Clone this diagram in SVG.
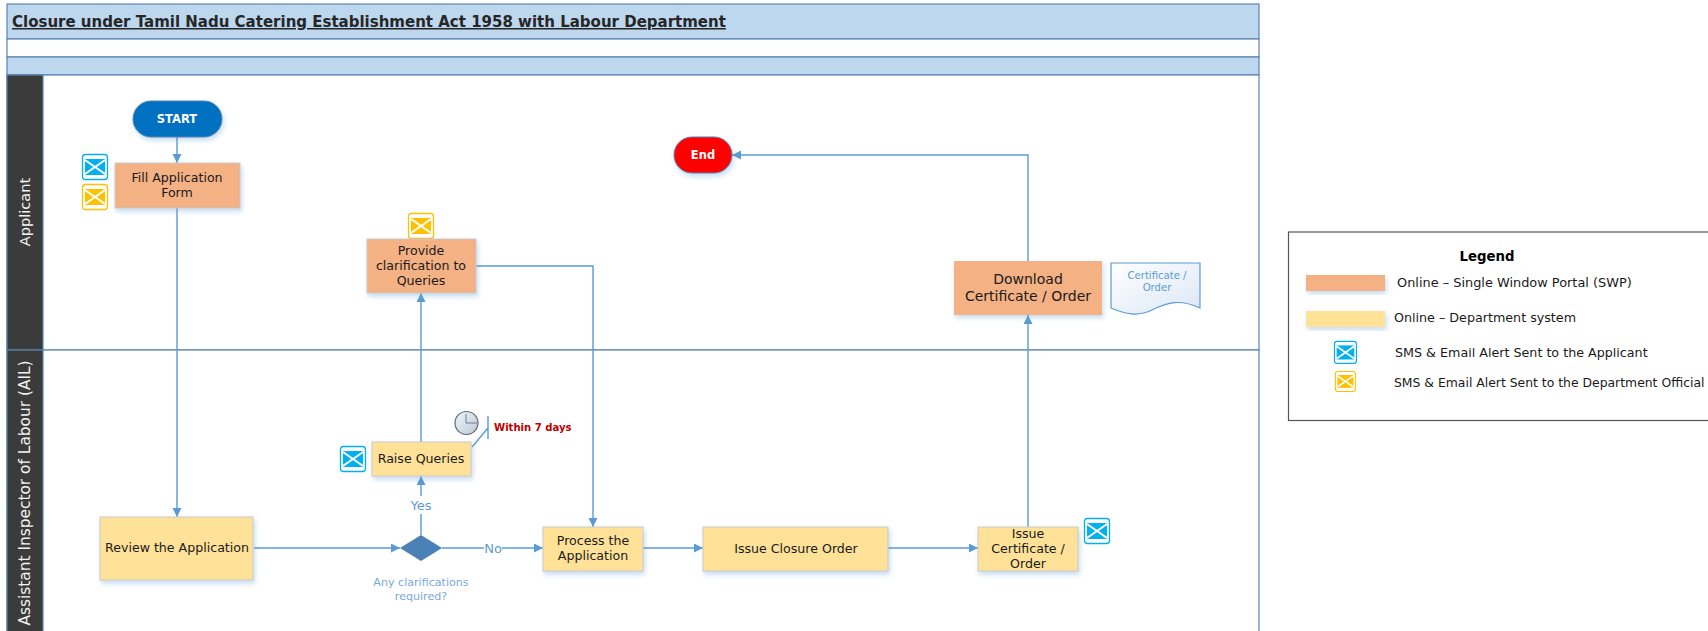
<svg xmlns="http://www.w3.org/2000/svg" width="1708" height="631" viewBox="0 0 1708 631">
<style>
text{font-family:"DejaVu Sans",Verdana,sans-serif;font-size:12.6px;fill:#1a1a1a;text-anchor:middle}
.band{fill:#bdd7ee;stroke:#5a84b0;stroke-width:1.2}
.lane{fill:#fff;stroke:#5a84b0;stroke-width:1.2}
.hd{fill:#3b3b3b;stroke:#5a84b0;stroke-width:1.2}
.hdt{fill:#f2f2f2;font-size:15.4px}
.o{fill:#f4b183;stroke:#c9c9c9;stroke-width:1;filter:url(#s)}
.y{fill:#ffe298;stroke:#c9c9c9;stroke-width:1;filter:url(#s)}
.c{fill:none;stroke:#5b9bd5;stroke-width:1.4}
.lb{fill:#5b9bd5}
.q{fill:#7aa9dc;font-size:11.1px}
.leg{text-anchor:start;font-size:12.7px}
.e{fill:none;stroke:#fff;stroke-width:2}
</style>
<defs>
<filter id="s" x="-10%" y="-10%" width="125%" height="130%"><feDropShadow dx="1.5" dy="3" stdDeviation="2.5" flood-color="#5b9bd5" flood-opacity=".35"/></filter>
<marker id="a" markerWidth="10" markerHeight="10" refX="9" refY="4.500" orient="auto" markerUnits="userSpaceOnUse"><path d="M0 0L9 4.500L0 9Z" fill="#5b9bd5"/></marker>
<linearGradient id="d" x1="0" y1="0" x2="1" y2="1"><stop offset="0" stop-color="#fff"/><stop offset="1" stop-color="#dbe7f5"/></linearGradient>
<linearGradient id="cl" x1="0" y1="0" x2="1" y2="1"><stop offset="0" stop-color="#f2f5f8"/><stop offset="1" stop-color="#bcc8d6"/></linearGradient>
<g id="mail-b"><rect x="0.500" y="0.500" width="25" height="25" rx="3" fill="#fff" stroke="#00b0f0" stroke-width="1.300"/><rect x="3" y="5" width="20" height="16" fill="#00b0f0"/><path class="e" d="M3 6L13 13L23 6M3 20L13 13L23 20"/></g>
<g id="mail-g"><rect x="0.500" y="0.500" width="25" height="25" rx="3" fill="#fff" stroke="#ffc000" stroke-width="1.300"/><rect x="3" y="5" width="20" height="16" fill="#ffc000"/><path class="e" d="M3 6L13 13L23 6M3 20L13 13L23 20"/></g>
</defs>
<g id="swimlanes">
<rect class="band" x="7" y="4" width="1252" height="35"/>
<rect class="lane" x="7" y="39" width="1252" height="18"/>
<rect class="band" x="7" y="57" width="1252" height="18"/>
<rect class="lane" x="7" y="75" width="1252" height="275"/>
<rect class="lane" x="7" y="350" width="1252" height="290"/>
<rect class="hd" x="7" y="75" width="36" height="275"/>
<rect class="hd" x="7" y="350" width="36" height="290"/>
<text x="12" y="27" style="text-anchor:start;font-size:15px;font-weight:bold;text-decoration:underline;fill:#262626">Closure under Tamil Nadu Catering Establishment Act 1958 with Labour Department</text>
<text class="hdt" transform="translate(30 212) rotate(-90)" style="font-size:14.6px">Applicant</text>
<text class="hdt" transform="translate(30 493) rotate(-90)">Assistant Inspector of Labour (AIL)</text>
</g>
<g id="connectors">
<path class="c" marker-end="url(#a)" d="M177 137V163"/>
<path class="c" marker-end="url(#a)" d="M177 208V517"/>
<path class="c" marker-end="url(#a)" d="M254 548H400"/>
<path class="c" marker-end="url(#a)" d="M421 535V476"/>
<path class="c" marker-end="url(#a)" d="M421 442V293"/>
<path class="c" marker-end="url(#a)" d="M442 548H543"/>
<path class="c" marker-end="url(#a)" d="M476 266H593V527"/>
<path class="c" marker-end="url(#a)" d="M643 548H703"/>
<path class="c" marker-end="url(#a)" d="M888 548H978"/>
<path class="c" marker-end="url(#a)" d="M1028 527V315"/>
<path class="c" marker-end="url(#a)" d="M1028 261V155H732"/>
<path class="c" d="M472 447L488 428M488 416V439"/>
<rect x="410" y="496" width="22" height="18" fill="#fff"/>
<text class="lb" x="421" y="510" style="font-size:13px">Yes</text>
<rect x="484" y="540" width="18" height="16" fill="#fff"/>
<text class="lb" x="493" y="553" style="font-size:13px">No</text>
</g>
<g id="start"><rect x="133" y="101" width="89" height="36" rx="18" fill="#0070c0" stroke="#5a84b0" filter="url(#s)"/><text x="177" y="123" style="fill:#fff;font-weight:bold;font-size:11.500px">START</text></g>
<g id="fill-form"><rect class="o" x="115" y="163" width="125" height="45"/><text x="177" y="182">Fill Application</text><text x="177" y="197">Form</text></g>
<g id="mail1"><use href="#mail-b" x="82" y="154"/></g>
<g id="mail2"><use href="#mail-g" x="82" y="184"/></g>
<g id="mail3"><use href="#mail-g" x="408" y="213"/></g>
<g id="provide"><rect class="o" x="367" y="239" width="109" height="54"/><text x="421" y="255">Provide</text><text x="421" y="270">clarification to</text><text x="421" y="285">Queries</text></g>
<g id="end"><rect x="674" y="137" width="58" height="36" rx="18" fill="#ff0000" stroke="#5a84b0" filter="url(#s)"/><text x="703" y="159" style="fill:#fff;font-weight:bold;font-size:11.500px">End</text></g>
<g id="download"><rect class="o" x="954" y="261" width="148" height="54" style="stroke:none"/><text x="1028" y="284" style="font-size:14px">Download</text><text x="1028" y="301" style="font-size:14px">Certificate / Order</text></g>
<g id="document"><path d="M1111 263H1200V308C1180 299 1168 302 1152 310C1138 317 1125 314 1111 308Z" fill="url(#d)" stroke="#5b9bd5" stroke-width="1.2"/><text x="1157" y="279" class="lb" style="font-size:10.100px">Certificate /</text><text x="1157" y="291" class="lb" style="font-size:10.100px">Order</text></g>
<g id="raise"><rect class="y" x="372" y="442" width="99" height="34"/><text x="421" y="463">Raise Queries</text></g>
<g id="mail4"><use href="#mail-b" x="340" y="446"/></g>
<g id="clock"><circle cx="466.500" cy="423" r="11.500" fill="url(#cl)" stroke="#5f6b78" stroke-width="1.200"/><path d="M466 414V423H477" fill="none" stroke="#6f7d8c" stroke-width="1"/></g>
<text x="494" y="431" style="text-anchor:start;fill:#c00000;font-weight:bold;font-size:10.100px">Within 7 days</text>
<g id="review"><rect class="y" x="100" y="517" width="153" height="63"/><text x="177" y="552">Review the Application</text></g>
<g id="decision"><path d="M400 548L421 535L442 548L421 561Z" fill="#4a82b8"/><text x="421" y="586" class="q">Any clarifications</text><text x="421" y="600" class="q">required?</text></g>
<g id="process"><rect class="y" x="543" y="527" width="100" height="44"/><text x="593" y="545">Process the</text><text x="593" y="560">Application</text></g>
<g id="closure"><rect class="y" x="703" y="527" width="185" height="44"/><text x="796" y="553">Issue Closure Order</text></g>
<g id="issue-cert"><rect class="y" x="978" y="527" width="100" height="44"/><text x="1028" y="538">Issue</text><text x="1028" y="553">Certificate /</text><text x="1028" y="568">Order</text></g>
<g id="mail5"><use href="#mail-b" x="1084" y="518"/></g>
<g id="legend">
<rect x="1288.500" y="232" width="440" height="188.500" fill="#fff" stroke="#555" stroke-width="1.200"/>
<text x="1487" y="261" style="font-weight:bold;fill:#000;font-size:13.300px">Legend</text>
<rect x="1306" y="275" width="79" height="16" fill="#f4b183" filter="url(#s)"/><text class="leg" x="1397" y="287" style="font-size:12.900px">Online – Single Window Portal (SWP)</text>
<rect x="1306" y="311" width="79" height="16" fill="#ffe298" filter="url(#s)"/><text class="leg" x="1394" y="322">Online – Department system</text>
<use href="#mail-b" transform="translate(1334 341) scale(.88)"/><text class="leg" x="1395" y="357">SMS &amp; Email Alert Sent to the Applicant</text>
<use href="#mail-g" transform="translate(1335 371) scale(.8)"/><text class="leg" x="1394" y="387" style="font-size:12.400px">SMS &amp; Email Alert Sent to the Department Official</text>
</g>
</svg>
